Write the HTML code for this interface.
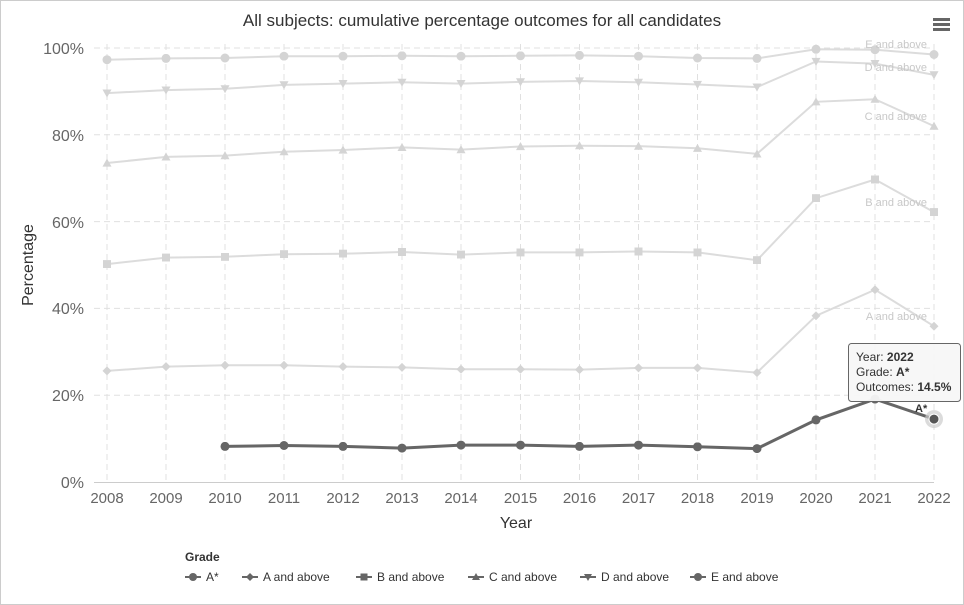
<!DOCTYPE html><html><head><style>body{margin:0;background:#fff}svg{font-family:"Liberation Sans",Arial,sans-serif;display:block}</style></head><body>
<svg width="964" height="605" xmlns="http://www.w3.org/2000/svg">
<defs>
<marker id="mc" viewBox="0 0 10 10" refX="5" refY="5" markerWidth="9" markerHeight="9" markerUnits="userSpaceOnUse"><circle cx="5" cy="5" r="5" fill="#d4d4d4"/></marker>
<marker id="md" viewBox="0 0 10 10" refX="5" refY="5" markerWidth="9" markerHeight="9" markerUnits="userSpaceOnUse"><polygon points="5,0 10,5 5,10 0,5" fill="#d4d4d4"/></marker>
<marker id="ms" viewBox="0 0 10 10" refX="5" refY="5" markerWidth="8" markerHeight="8" markerUnits="userSpaceOnUse"><rect width="10" height="10" fill="#d4d4d4"/></marker>
<marker id="mu" viewBox="0 0 10 10" refX="5" refY="5" markerWidth="9" markerHeight="9" markerUnits="userSpaceOnUse"><polygon points="5,0 10,9 0,9" fill="#d4d4d4"/></marker>
<marker id="mv" viewBox="0 0 10 10" refX="5" refY="5" markerWidth="9" markerHeight="9" markerUnits="userSpaceOnUse"><polygon points="5,10 10,1 0,1" fill="#d4d4d4"/></marker>
<marker id="mk" viewBox="0 0 10 10" refX="5" refY="5" markerWidth="9" markerHeight="9" markerUnits="userSpaceOnUse"><circle cx="5" cy="5" r="5" fill="#666"/></marker>
</defs>
<rect x="0.5" y="0.5" width="963" height="604" fill="#fff" stroke="#ccc"/>
<text x="482" y="26" text-anchor="middle" font-size="17" fill="#333">All subjects: cumulative percentage outcomes for all candidates</text>
<g fill="#666"><rect x="933" y="18" width="17" height="3"/><rect x="933" y="23" width="17" height="3"/><rect x="933" y="28" width="17" height="3"/></g>
<g stroke="#e0e0e0" stroke-dasharray="6,4" stroke-width="1">
<line x1="94" x2="934" y1="48" y2="48"/><line x1="94" x2="934" y1="134.8" y2="134.8"/><line x1="94" x2="934" y1="221.6" y2="221.6"/><line x1="94" x2="934" y1="308.4" y2="308.4"/><line x1="94" x2="934" y1="395.2" y2="395.2"/>
<line x1="107" x2="107" y1="44" y2="482"/><line x1="166" x2="166" y1="44" y2="482"/><line x1="225" x2="225" y1="44" y2="482"/><line x1="284" x2="284" y1="44" y2="482"/><line x1="343" x2="343" y1="44" y2="482"/><line x1="402" x2="402" y1="44" y2="482"/><line x1="461" x2="461" y1="44" y2="482"/><line x1="520.5" x2="520.5" y1="44" y2="482"/><line x1="579.5" x2="579.5" y1="44" y2="482"/><line x1="638.5" x2="638.5" y1="44" y2="482"/><line x1="697.5" x2="697.5" y1="44" y2="482"/><line x1="757" x2="757" y1="44" y2="482"/><line x1="816" x2="816" y1="44" y2="482"/><line x1="875" x2="875" y1="44" y2="482"/><line x1="934" x2="934" y1="44" y2="482"/>
</g>
<line x1="94" x2="934" y1="482.5" y2="482.5" stroke="#ccc"/>
<g font-size="16" fill="#666" text-anchor="end">
<text x="84" y="54">100%</text><text x="84" y="141">80%</text><text x="84" y="228">60%</text><text x="84" y="314">40%</text><text x="84" y="401">20%</text><text x="84" y="488">0%</text></g>
<g font-size="15" fill="#666" text-anchor="middle">
<text x="107" y="503">2008</text><text x="166" y="503">2009</text><text x="225" y="503">2010</text><text x="284" y="503">2011</text><text x="343" y="503">2012</text><text x="402" y="503">2013</text><text x="461" y="503">2014</text><text x="520.5" y="503">2015</text><text x="579.5" y="503">2016</text><text x="638.5" y="503">2017</text><text x="697.5" y="503">2018</text><text x="757" y="503">2019</text><text x="816" y="503">2020</text><text x="875" y="503">2021</text><text x="934" y="503">2022</text></g>
<g fill="none" stroke="#dcdcdc" stroke-width="2">
<polyline marker-start="url(#mc)" marker-mid="url(#mc)" marker-end="url(#mc)" points="107,59.7 166,58.4 225,58 284,56.2 343,56.2 402,55.8 461,56.2 520.5,55.8 579.5,55.4 638.5,56.2 697.5,58 757,58.4 816,49.3 875,49.7 934,54.5"/>
<polyline marker-start="url(#mv)" marker-mid="url(#mv)" marker-end="url(#mv)" points="107,93.1 166,90.1 225,88.8 284,84.9 343,83.6 402,82.3 461,83.6 520.5,81.9 579.5,81 638.5,82.3 697.5,84.5 757,87.1 816,61.5 875,63.6 934,74.9"/>
<polyline marker-start="url(#mu)" marker-mid="url(#mu)" marker-end="url(#mu)" points="107,163 166,156.9 225,155.6 284,151.7 343,150 402,147.4 461,149.6 520.5,146.5 579.5,145.7 638.5,146.1 697.5,148.3 757,153.9 816,101.8 875,99.2 934,126.1"/>
<polyline marker-start="url(#ms)" marker-mid="url(#ms)" marker-end="url(#ms)" points="107,264.1 166,257.6 225,256.8 284,254.2 343,253.7 402,252 461,254.6 520.5,252.4 579.5,252.4 638.5,251.5 697.5,252.4 757,260.2 816,198.2 875,179.5 934,212.1"/>
<polyline marker-start="url(#md)" marker-mid="url(#md)" marker-end="url(#md)" points="107,370.9 166,366.6 225,365.3 284,365.3 343,366.6 402,367.4 461,369.2 520.5,369.2 579.5,369.6 638.5,367.9 697.5,367.9 757,372.6 816,315.8 875,289.7 934,326.2"/>
</g>
<g font-size="11" fill="#c8c8c8" text-anchor="end">
<text x="927" y="48">E and above</text><text x="927" y="71">D and above</text><text x="927" y="120">C and above</text><text x="927" y="206">B and above</text><text x="927" y="320">A and above</text></g>
<polyline fill="none" stroke="#666" stroke-width="3" marker-start="url(#mk)" marker-mid="url(#mk)" marker-end="url(#mk)" points="225,446.4 284,445.5 343,446.4 402,448.1 461,445.1 520.5,445.1 579.5,446.4 638.5,445.1 697.5,446.8 757,448.6 816,419.9 875,399.1 934,419.1"/>
<circle cx="934" cy="419.1" r="9" fill="#ccc" opacity="0.7"/><circle cx="934" cy="419.1" r="5" fill="#555" stroke="#fff"/>
<text x="915" y="412" font-size="11" font-weight="bold" fill="#333">A*</text>
<rect x="848.5" y="343.5" width="112" height="58" rx="3" fill="#f7f7f7" fill-opacity="0.95" stroke="#666"/>
<text font-size="12" fill="#333"><tspan x="856" y="361">Year: <tspan font-weight="bold">2022</tspan></tspan><tspan x="856" y="376">Grade: <tspan font-weight="bold">A*</tspan></tspan><tspan x="856" y="391">Outcomes: <tspan font-weight="bold">14.5%</tspan></tspan></text>
<text transform="translate(33,265) rotate(-90)" text-anchor="middle" font-size="16" fill="#333">Percentage</text>
<text x="516" y="528" text-anchor="middle" font-size="16" fill="#333">Year</text>
<text x="185" y="561" font-size="12" font-weight="bold" fill="#333">Grade</text>
<g stroke="#666" stroke-width="2"><line x1="185" x2="201" y1="577" y2="577"/><line x1="242" x2="258" y1="577" y2="577"/><line x1="356" x2="372" y1="577" y2="577"/><line x1="468" x2="484" y1="577" y2="577"/><line x1="580" x2="596" y1="577" y2="577"/><line x1="690" x2="706" y1="577" y2="577"/></g>
<g fill="#666"><circle cx="193" cy="577" r="4"/><polygon points="250,573 254,577 250,581 246,577"/><rect x="360.5" y="573.5" width="7" height="7"/><polygon points="476,573 480,580 472,580"/><polygon points="588,581 592,574 584,574"/><circle cx="698" cy="577" r="4"/></g>
<g font-size="12" fill="#333"><text x="206" y="581">A*</text><text x="263" y="581">A and above</text><text x="377" y="581">B and above</text><text x="489" y="581">C and above</text><text x="601" y="581">D and above</text><text x="711" y="581">E and above</text></g>
</svg></body></html>
